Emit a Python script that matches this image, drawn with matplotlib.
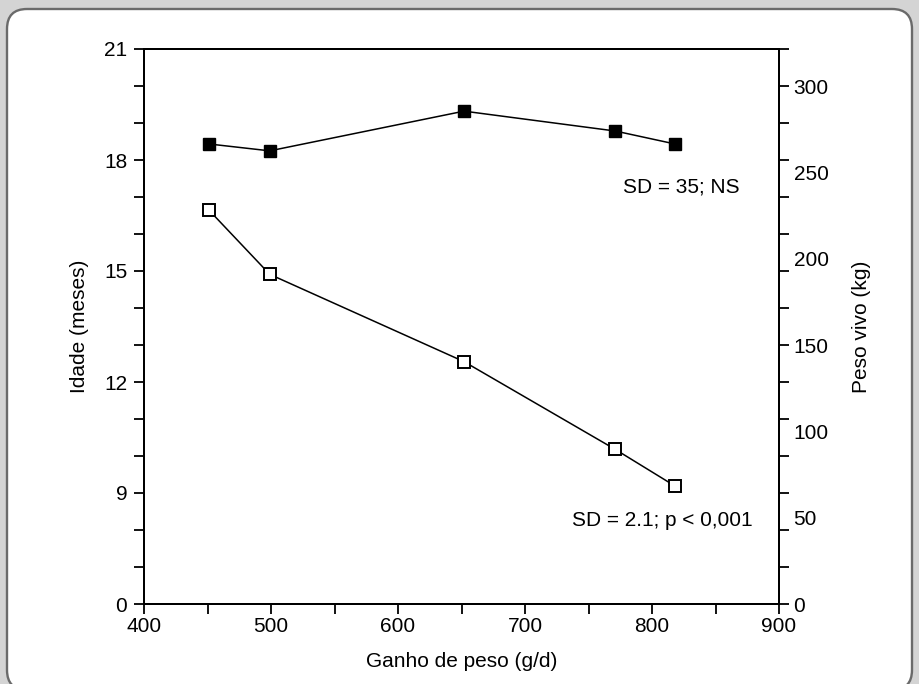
import matplotlib
matplotlib.use("Agg")
import matplotlib.pyplot as plt
from matplotlib.patches import FancyBboxPatch
from matplotlib.transforms import IdentityTransform

# data
gain = [451, 499, 652, 771, 818]                 # Ganho de peso (g/d)
age_months = [16.65, 14.91, 12.55, 10.18, 9.19]  # Idade (meses), open squares
live_weight = [266.5, 262.5, 285.5, 274, 266.5]  # Peso vivo (kg), filled squares

age_ticks = list(range(6, 22))
age_labels = ["0", "", "", "9", "", "", "12", "", "", "15", "", "", "18", "", "", "21"]
weight_ticks = [0, 50, 100, 150, 200, 250, 300]
gain_ticks = list(range(400, 901, 50))
gain_labels = [str(g) if g % 100 == 0 else "" for g in gain_ticks]

W, H = 919, 684
plt.rcParams["font.family"] = ["Liberation Sans", "DejaVu Sans"]
plt.rcParams["font.size"] = 15

fig = plt.figure(figsize=(W / 100, H / 100), dpi=100, facecolor="#d4d4d4")

# rounded white card behind the chart
panel = FancyBboxPatch((7, -6), 905, 681, boxstyle="round,pad=0,rounding_size=20",
                       transform=IdentityTransform(), facecolor="white",
                       edgecolor="#6a6a6a", linewidth=1.7, zorder=-10)
fig.patches.append(panel)

ax = fig.add_axes([144 / W, 1 - 604 / H, (779 - 144) / W, (604 - 49) / H])
ax.set_facecolor("none")
ax2 = ax.twinx()

ax.plot(gain, age_months, color="black", lw=1.1, marker="s", ms=8,
        mfc="white", mec="black", mew=1.4, zorder=3)
ax2.plot(gain, live_weight, color="black", lw=1.1, marker="s", ms=8.5,
         mfc="black", mec="black", zorder=3)

ax.set_xlim(400, 900)
ax.set_ylim(6, 21)
ax2.set_ylim(0, 321.5)

ax.set_xticks(gain_ticks)
ax.set_xticklabels(gain_labels)
ax.set_yticks(age_ticks)
ax.set_yticklabels(age_labels)
ax2.set_yticks(weight_ticks)

for spine in list(ax.spines.values()) + list(ax2.spines.values()):
    spine.set_linewidth(1.4)
ax.tick_params(axis="both", direction="out", length=7.5, width=1.3, color="black")
ax.tick_params(axis="y", right=True, pad=4.5)
ax.tick_params(axis="x", pad=1.5)
# right-hand scale: labels only, the ticks come from the left axis
ax2.tick_params(axis="y", length=0, pad=10.5)

ax.text(777, 17.27, "SD = 35; NS", va="center", ha="left")
ax.text(737, 8.27, "SD = 2.1; p < 0,001", va="center", ha="left")

ax.set_ylabel("Idade (meses)", va="center")
ax.yaxis.set_label_coords(-0.1008, 0.5)
ax2.set_ylabel("Peso vivo (kg)", va="center")
ax2.yaxis.set_label_coords(1.130, 0.5)
ax.set_xlabel("Ganho de peso (g/d)", va="center")
ax.xaxis.set_label_coords(0.5, -0.1045)

fig.savefig("out.png", dpi=100, facecolor=fig.get_facecolor())
